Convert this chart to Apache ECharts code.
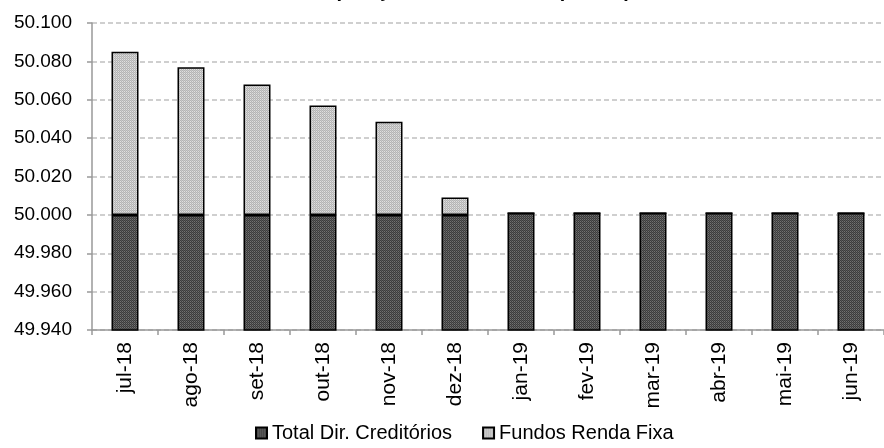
<!DOCTYPE html>
<html>
<head>
<meta charset="utf-8">
<script src="https://cdn.jsdelivr.net/npm/echarts@6/dist/echarts.min.js"></script>
<style>
html,body{margin:0;padding:0;background:#fff;}
#chart{width:884px;height:448px;}
</style>
</head>
<body>
<div id="chart"></div>
<script>
var titleText = 'Composição do Patrimônio (R$ mil)';
var categories = ['jul-18','ago-18','set-18','out-18','nov-18','dez-18','jan-19','fev-19','mar-19','abr-19','mai-19','jun-19'];
var totalDirCreditorios = [50000,50000,50000,50000,50000,50000,50001,50001,50001,50001,50001,50001];
var fundosRendaFixa = [85,77,68,57,48.5,9,0,0,0,0,0,0];
var seriesNames = ['Total Dir. Creditórios','Fundos Renda Fixa'];
var yMin = 49940, yMax = 50100, yStep = 20;

function makePattern(base, darkPx, lightPx) {
  var c = document.createElement('canvas');
  c.width = 4; c.height = 4;
  var g = c.getContext('2d');
  g.fillStyle = base; g.fillRect(0,0,4,4);
  for (var y = 0; y < 4; y++) {
    for (var x = 0; x < 4; x++) {
      if ((x + y) % 2 === 0) { g.fillStyle = darkPx; g.fillRect(x,y,1,1); }
      else if (x % 2 === 0 && y % 2 === 1) { g.fillStyle = lightPx; g.fillRect(x,y,1,1); }
    }
  }
  return {image: c, repeat: 'repeat'};
}
var darkFill = makePattern('#575757', '#3c3c3c', '#727272');
var lightFill = makePattern('#c8c8c8', '#b4b4b4', '#e0e0e0');

var font = 'Arial, "Liberation Sans", sans-serif';
var chart = echarts.init(document.getElementById('chart'), null, {renderer: 'canvas'});
chart.setOption({
  animation: false,
  backgroundColor: '#ffffff',
  title: {
    text: titleText,
    left: 287,
    top: -24,
    textStyle: {fontFamily: font, fontSize: 20, fontWeight: 'bold', color: '#000', lineHeight: 20}
  },
  grid: {left: 92, right: -10, top: 23, bottom: 118, containLabel: false},
  legend: {
    bottom: 0,
    left: 250,
    icon: 'rect',
    itemWidth: 11,
    itemHeight: 11,
    itemGap: 30,
    textStyle: {fontFamily: font, fontSize: 20, color: '#000'},
    data: seriesNames
  },
  xAxis: {
    type: 'category',
    data: categories,
    boundaryGap: true,
    axisLine: {lineStyle: {color: '#999999', width: 1.5}},
    axisTick: {show: true, alignWithLabel: false, length: 5, lineStyle: {color: '#999999', width: 1.5}},
    axisLabel: {rotate: 90, margin: 12, fontFamily: font, fontSize: 21, color: '#000', interval: 0}
  },
  yAxis: {
    type: 'value',
    min: yMin,
    max: yMax,
    interval: yStep,
    axisLine: {show: true, lineStyle: {color: '#999999', width: 1.5}},
    axisTick: {show: true, length: 5, lineStyle: {color: '#999999', width: 1.5}},
    axisLabel: {
      margin: 20,
      fontFamily: font, fontSize: 19, color: '#000',
      formatter: function (v) { return (v / 1000).toFixed(3); }
    },
    splitLine: {show: true, lineStyle: {color: '#c0c0c0', width: 1.5, type: [5, 3]}}
  },
  series: [
    {
      name: seriesNames[0],
      type: 'bar',
      stack: 'total',
      barWidth: 27,
      data: totalDirCreditorios,
      itemStyle: {color: darkFill, borderColor: '#000', borderWidth: 1.5}
    },
    {
      name: seriesNames[1],
      type: 'bar',
      stack: 'total',
      barWidth: 27,
      data: fundosRendaFixa,
      itemStyle: {color: lightFill, borderColor: '#000', borderWidth: 1.5}
    }
  ]
});
</script>
</body>
</html>
